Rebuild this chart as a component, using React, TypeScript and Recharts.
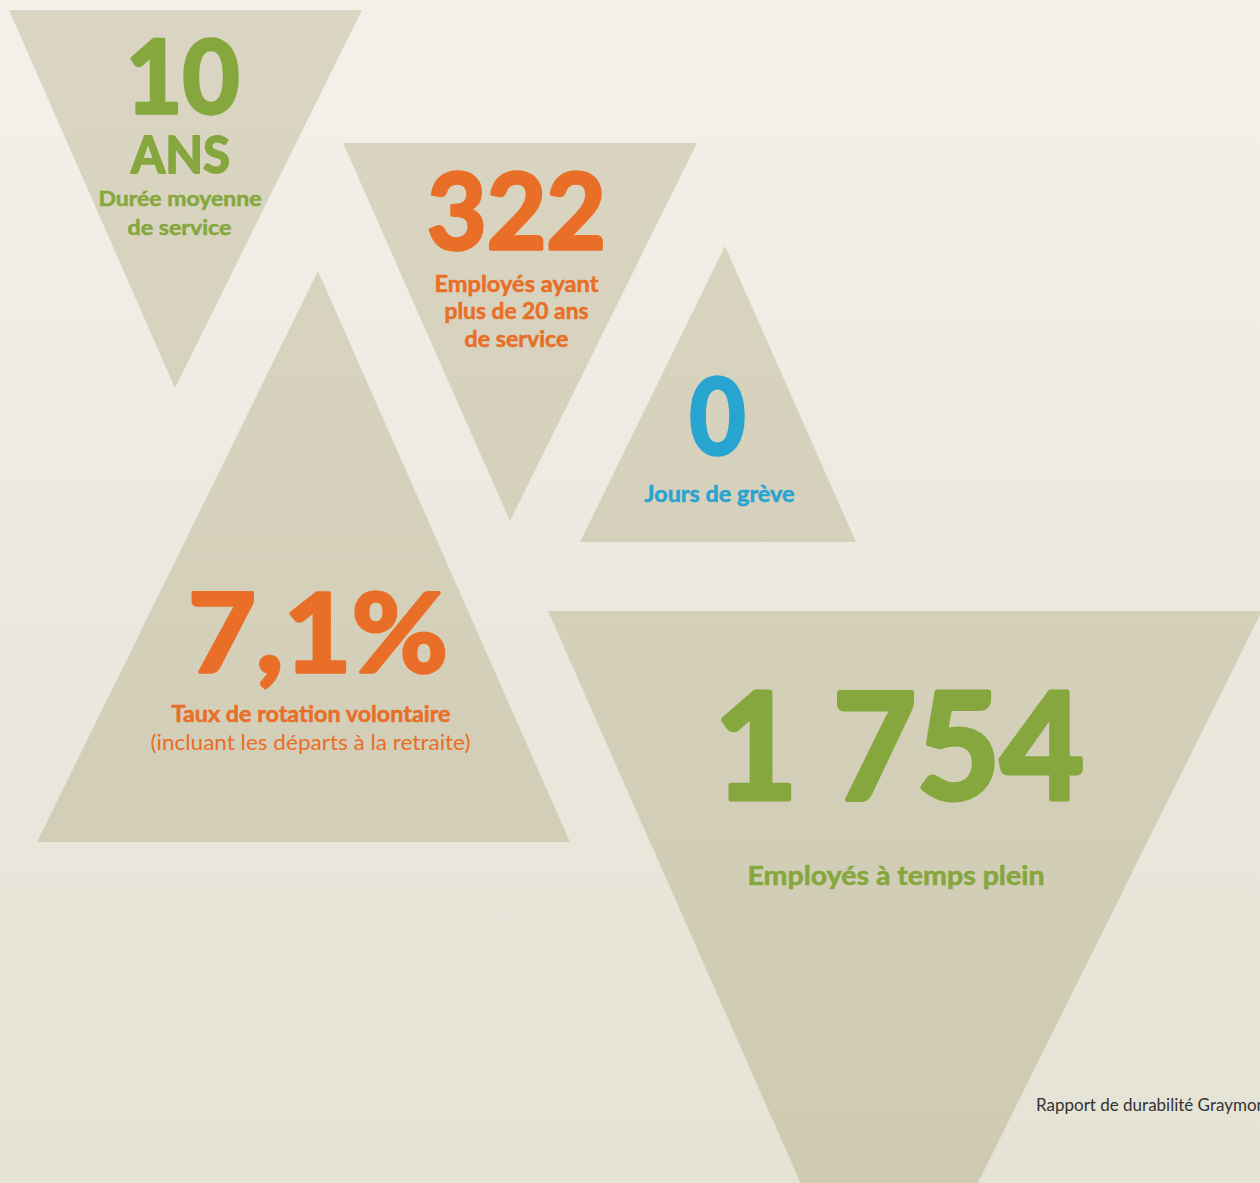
import React from 'react';
import { ScatterChart, Scatter, XAxis, YAxis } from 'recharts';

// ---------- data ----------
const statValues = ['10', '322', '0', '7,1%', '1 754'];
const unitLabels = ['ANS'];
const captionService = ['Durée moyenne', 'de service'];
const captionSenior = ['Employés ayant', 'plus de 20 ans', 'de service'];
const captionStrike = ['Jours de grève'];
const captionTurnover = ['Taux de rotation volontaire', '(incluant les départs à la retraite)'];
const captionStaff = ['Employés à temps plein'];
const footerText = ['Rapport de durabilité Graymont'];

// triangle vertices, in the chart's own coordinate system
const triangleService = [
  { x: 9, y: 10 },
  { x: 362, y: 10 },
  { x: 175, y: 388 },
];
const triangleSenior = [
  { x: 343, y: 143 },
  { x: 697, y: 143 },
  { x: 510, y: 521 },
];
const triangleStrike = [
  { x: 725, y: 246 },
  { x: 856, y: 542 },
  { x: 580, y: 542 },
];
const triangleTurnover = [
  { x: 318, y: 271 },
  { x: 570, y: 842 },
  { x: 37, y: 842 },
];
const triangleStaff = [
  { x: 548, y: 611 },
  { x: 1262, y: 611 },
  { x: 884, y: 1372 },
];
const triangles = [triangleService, triangleSenior, triangleStrike, triangleTurnover, triangleStaff];

// ---------- layout & style ----------
const W = 1260;
const H = 1183;
const GREEN = '#86a73e';
const ORANGE = '#e96e27';
const BLUE = '#28a4d1';
const DARK = '#333333';
const FONT = 'Lato, "Noto Sans", sans-serif';

type Item = {
  x: number;
  y: number;
  text: string;
  size: number;
  weight: number;
  color: string;
  len?: number;
  anchor?: 'middle' | 'start';
  thick?: number;
};

const textItems: Item[] = [
  { x: 182.5, y: 113, text: statValues[0], size: 102, weight: 700, color: GREEN, len: 114, thick: 3.5 },
  { x: 180.5, y: 172.5, text: unitLabels[0], size: 52, weight: 700, color: GREEN, len: 99, thick: 1.8 },
  { x: 180, y: 206, text: captionService[0], size: 21, weight: 700, color: GREEN, len: 163, thick: 0.5 },
  { x: 179.5, y: 235, text: captionService[1], size: 21, weight: 700, color: GREEN, len: 104, thick: 0.5 },

  { x: 516.5, y: 249, text: statValues[1], size: 105, weight: 700, color: ORANGE, len: 179, thick: 3.5 },
  { x: 516.5, y: 292, text: captionSenior[0], size: 22, weight: 700, color: ORANGE, len: 164, thick: 0.5 },
  { x: 516.5, y: 319, text: captionSenior[1], size: 22, weight: 700, color: ORANGE, len: 144, thick: 0.5 },
  { x: 516.5, y: 347, text: captionSenior[2], size: 22, weight: 700, color: ORANGE, len: 104, thick: 0.5 },

  { x: 717.5, y: 454, text: statValues[2], size: 105, weight: 700, color: BLUE, len: 56, thick: 3.5 },
  { x: 719.5, y: 502, text: captionStrike[0], size: 22, weight: 700, color: BLUE, len: 150, thick: 0.5 },

  { x: 318, y: 672, text: statValues[3], size: 109, weight: 700, color: ORANGE, len: 260, thick: 3.5 },
  { x: 311, y: 722, text: captionTurnover[0], size: 22, weight: 700, color: ORANGE, len: 279, thick: 0.5 },
  { x: 310.5, y: 750, text: captionTurnover[1], size: 22, weight: 400, color: ORANGE, len: 320 },

  { x: 899, y: 799, text: statValues[4], size: 147, weight: 700, color: GREEN, len: 370, thick: 5 },
  { x: 896, y: 885, text: captionStaff[0], size: 27, weight: 700, color: GREEN, len: 297, thick: 0.6 },

  { x: 1036, y: 1111, text: footerText[0], size: 17, weight: 400, color: DARK, len: 236, anchor: 'start' },
];

const NoMarker = () => <g />;

const TriangleFill = (p: any) => {
  const pts = (p.points || []).map((q: any) => `${q.x},${q.y}`).join(' ');
  return <polygon points={pts} fill="url(#triGrad)" stroke="none" />;
};

const TextShape = (p: any) => {
  const d: Item = p.payload;
  return (
    <text
      x={p.cx}
      y={p.cy}
      textAnchor={d.anchor || 'middle'}
      fontFamily={FONT}
      fontWeight={d.weight}
      fontSize={d.size}
      fill={d.color}
      stroke={d.thick ? d.color : 'none'}
      strokeWidth={d.thick || 0}
      strokeLinejoin="round"
      textLength={d.len}
      lengthAdjust={d.len ? 'spacingAndGlyphs' : undefined}
    >
      {d.text}
    </text>
  );
};

export default function App() {
  return (
    <div
      style={{
        position: 'absolute',
        left: 0,
        top: 0,
        width: W,
        height: H,
        overflow: 'hidden',
        background: 'linear-gradient(to bottom, #f3f1ea 0%, #ebe9df 50%, #e5e3d4 100%)',
      }}
    >
      <ScatterChart width={W} height={H} margin={{ top: 0, right: 0, bottom: 0, left: 0 }}>
        <defs>
          <linearGradient id="triGrad" gradientUnits="userSpaceOnUse" x1="0" y1="0" x2="0" y2={H}>
            <stop offset="0%" stopColor="#dad6c3" />
            <stop offset="100%" stopColor="#cfcab1" />
          </linearGradient>
        </defs>
        <XAxis type="number" dataKey="x" domain={[0, W]} hide allowDataOverflow />
        <YAxis type="number" dataKey="y" domain={[0, H]} reversed hide allowDataOverflow />
        {triangles.map((t, i) => (
          <Scatter
            key={`tri-${i}`}
            data={t}
            line={TriangleFill}
            lineType="joint"
            shape={NoMarker}
            isAnimationActive={false}
          />
        ))}
        <Scatter data={textItems} shape={TextShape} isAnimationActive={false} />
      </ScatterChart>
    </div>
  );
}
